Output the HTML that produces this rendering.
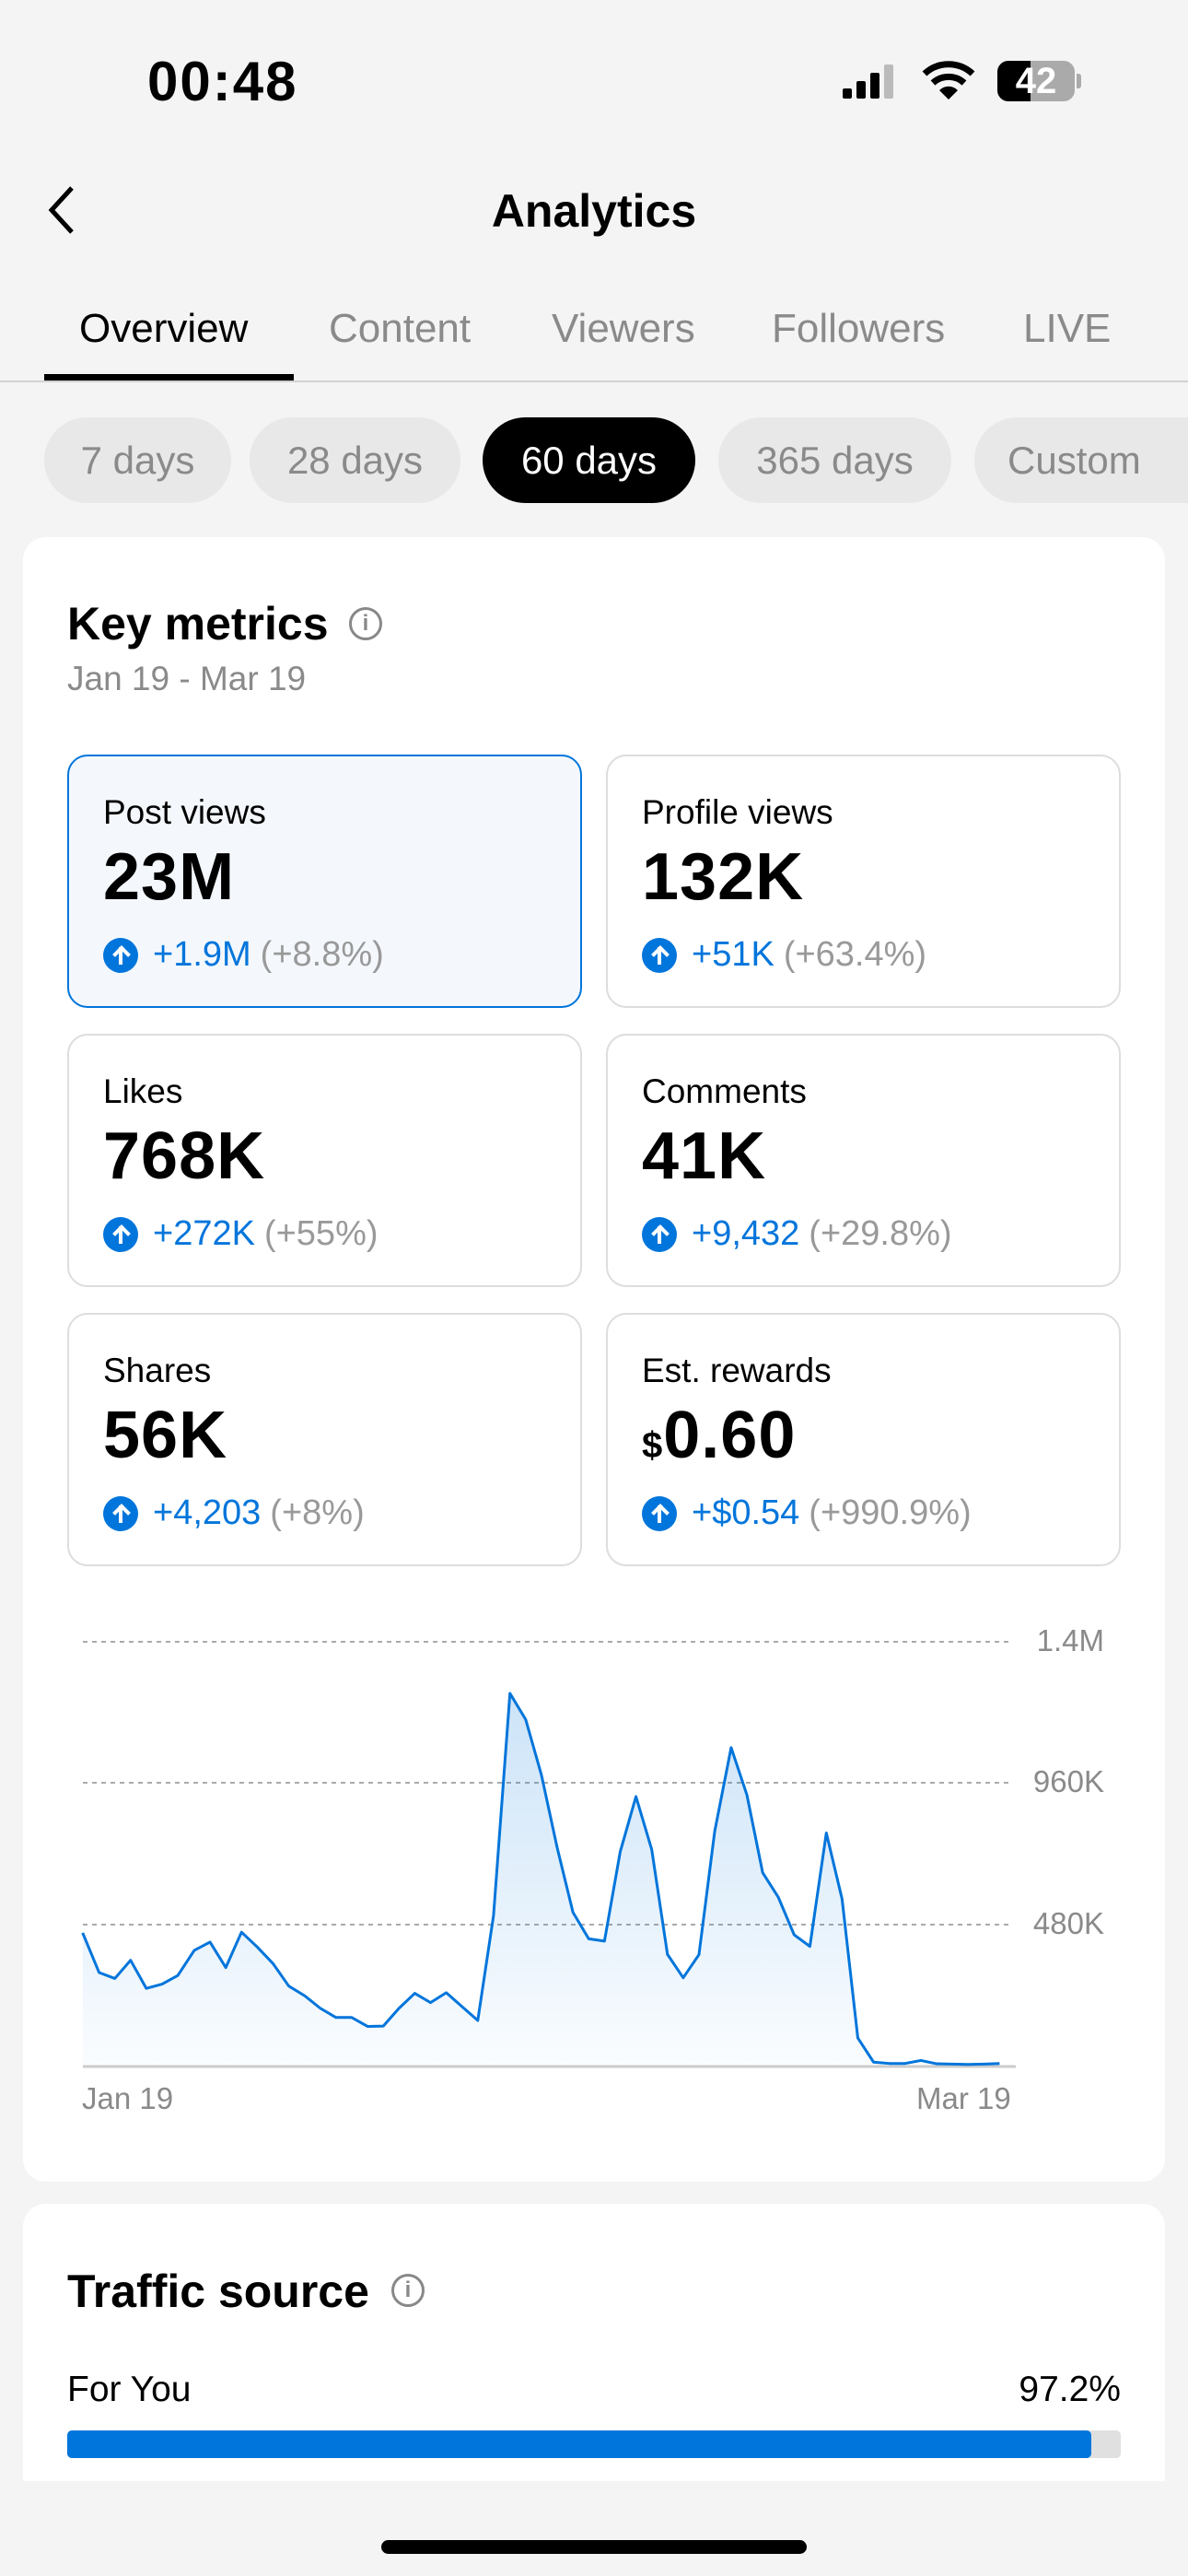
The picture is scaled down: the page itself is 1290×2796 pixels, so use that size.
<!DOCTYPE html>
<html><head><meta charset="utf-8">
<style>
*{margin:0;padding:0;box-sizing:border-box}
body{width:1290px;height:2796px;background:#f4f4f4;font-family:"Liberation Sans",sans-serif;position:relative;overflow:hidden;color:#000}
.a{position:absolute;white-space:nowrap}
.tab{position:absolute;top:332px;font-size:44px;color:#8a8a8a}
.pill{position:absolute;top:453px;height:93px;border-radius:47px;background:#e8e8e8;color:#8a8a8a;font-size:42px;line-height:93px;text-align:center}
.card{position:absolute;background:#fff;border-radius:25px}
.m{position:absolute;width:559px;height:275px;border:2px solid #ddd;border-radius:22px;background:#fff}
.m .l{position:absolute;left:37px;top:40px;font-size:37px}
.m .v{position:absolute;left:37px;top:90px;font-size:72px;font-weight:bold;letter-spacing:1px}
.m .d{position:absolute;left:37px;top:194px;font-size:38px;color:#0075db;display:flex;align-items:center}
.m .d i{display:inline-block;width:38px;height:38px;border-radius:50%;background:#0075db;margin-right:16px;position:relative}
.m .d i:before{content:"";position:absolute;left:17px;top:10px;width:4px;height:19px;background:#fff}
.m .d i:after{content:"";position:absolute;top:11px;width:10px;height:10px;border-left:4px solid #fff;border-top:4px solid #fff;transform:rotate(45deg);transform-origin:center;left:13px}
.m .d span{color:#999;margin-left:10px}
.yl{position:absolute;right:91px;font-size:33px;color:#8a8a8a}
</style></head><body>
<div class="a" style="left:160px;top:54px;font-size:60px;font-weight:bold;letter-spacing:2px">00:48</div>
<div class="a" style="left:915px;top:96px;width:10px;height:11px;background:#000;border-radius:2px"></div>
<div class="a" style="left:930px;top:88px;width:10px;height:19px;background:#000;border-radius:2px"></div>
<div class="a" style="left:945px;top:79px;width:10px;height:28px;background:#000;border-radius:2px"></div>
<div class="a" style="left:960px;top:70px;width:10px;height:37px;background:#bbb;border-radius:2px"></div>
<svg class="a" style="left:1000px;top:64px" width="60" height="46" viewBox="0 0 60 46"><path d="M4 16 A38 38 0 0 1 56 16" stroke="#000" stroke-width="7" fill="none"/><path d="M13 26 A25 25 0 0 1 47 26" stroke="#000" stroke-width="7" fill="none"/><path d="M30 44 L20 34 A14 14 0 0 1 40 34 Z" fill="#000"/></svg>
<div class="a" style="left:1083px;top:66px;width:84px;height:44px;border-radius:12px;background:#aaa;overflow:hidden"><div style="width:36px;height:44px;background:#000"></div></div>
<div class="a" style="left:1083px;width:84px;text-align:center;top:66px;font-size:40px;line-height:44px;font-weight:bold;color:#fff">42</div>
<div class="a" style="left:1169px;top:80px;width:5px;height:16px;background:#aaa;border-radius:0 3px 3px 0"></div>
<svg class="a" style="left:46px;top:200px" width="40" height="56"><path d="M32 4 L10 28 L32 52" stroke="#000" stroke-width="5" fill="none"/></svg>
<div class="a" style="left:0;width:1290px;text-align:center;top:200px;font-size:50px;font-weight:bold">Analytics</div>
<div class="tab" style="left:86px;color:#000">Overview</div>
<div class="tab" style="left:357px">Content</div>
<div class="tab" style="left:599px">Viewers</div>
<div class="tab" style="left:838px">Followers</div>
<div class="tab" style="left:1111px">LIVE</div>
<div class="a" style="left:0;top:413px;width:1290px;height:2px;background:#d2d2d2"></div>
<div class="a" style="left:48px;top:406px;width:271px;height:7px;background:#000"></div>
<div class="pill" style="left:48px;width:203px">7 days</div>
<div class="pill" style="left:271px;width:229px">28 days</div>
<div class="pill" style="left:524px;width:231px;background:#000;color:#fff">60 days</div>
<div class="pill" style="left:780px;width:253px">365 days</div>
<div class="pill" style="left:1058px;width:260px;border-radius:47px 0 0 47px;text-align:left;padding-left:36px">Custom</div>
<div class="card" style="left:25px;top:583px;width:1240px;height:1785px"></div>
<div class="a" style="left:73px;top:648px;font-size:50px;font-weight:bold">Key metrics</div>
<div class="a" style="left:379px;top:659px;width:36px;height:36px;border:3px solid #888;border-radius:50%;color:#888;font-size:24px;text-align:center;line-height:30px;font-weight:bold">i</div>
<div class="a" style="left:73px;top:716px;font-size:37px;color:#8a8a8a">Jan 19 - Mar 19</div>
<div class="m" style="left:73px;top:819px;border-color:#0075db;background:#f4f8fd"><div class="l">Post views</div><div class="v">23M</div><div class="d"><i></i>+1.9M<span>(+8.8%)</span></div></div>
<div class="m" style="left:658px;top:819px"><div class="l">Profile views</div><div class="v">132K</div><div class="d"><i></i>+51K<span>(+63.4%)</span></div></div>
<div class="m" style="left:73px;top:1122px"><div class="l">Likes</div><div class="v">768K</div><div class="d"><i></i>+272K<span>(+55%)</span></div></div>
<div class="m" style="left:658px;top:1122px"><div class="l">Comments</div><div class="v">41K</div><div class="d"><i></i>+9,432<span>(+29.8%)</span></div></div>
<div class="m" style="left:73px;top:1425px"><div class="l">Shares</div><div class="v">56K</div><div class="d"><i></i>+4,203<span>(+8%)</span></div></div>
<div class="m" style="left:658px;top:1425px"><div class="l">Est. rewards</div><div class="v"><span style="font-size:40px">$</span>0.60</div><div class="d"><i></i>+$0.54<span>(+990.9%)</span></div></div>
<svg class="a" style="left:0;top:0" width="1290" height="2400">
<g stroke="#aaa" stroke-width="2" stroke-dasharray="5,5">
<line x1="90" y1="1782" x2="1100" y2="1782"/><line x1="90" y1="1935" x2="1100" y2="1935"/><line x1="90" y1="2089" x2="1100" y2="2089"/></g>
<line x1="90" y1="2243" x2="1103" y2="2243" stroke="#ccc" stroke-width="3"/>
</svg>
<svg class="a" style="left:60px;top:1740px" width="1160" height="560" viewBox="0 0 1560 1560" preserveAspectRatio="none">
<defs><linearGradient id="g" x1="0" y1="0" x2="0" y2="1"><stop offset="0" stop-color="#0075db" stop-opacity="0.2"/><stop offset="1" stop-color="#0075db" stop-opacity="0.02"/></linearGradient></defs>
<polygon fill="url(#g)" points="40,1400 40,997 64,1117 87,1135 110,1080 133,1165 156,1152 179,1126 203,1050 226,1025 249,1102 272,995 295,1040 318,1090 341,1158 364,1187 387,1225 410,1253 433,1253 456,1280 479,1279 502,1225 525,1180 548,1208 571,1178 594,1220 617,1262 640,945 664,273 687,352 710,520 733,740 756,935 779,1015 802,1022 825,752 848,585 871,745 894,1062 917,1133 940,1063 963,690 987,437 1010,580 1033,815 1056,890 1079,1003 1102,1038 1126,695 1149,895 1172,1315 1195,1388 1218,1392 1241,1392 1264,1383 1287,1393 1310,1394 1333,1395 1356,1394 1379,1392 1379,1400"/>
<polyline fill="none" stroke="#0075db" stroke-width="3" vector-effect="non-scaling-stroke" stroke-linejoin="round" points="40,997 64,1117 87,1135 110,1080 133,1165 156,1152 179,1126 203,1050 226,1025 249,1102 272,995 295,1040 318,1090 341,1158 364,1187 387,1225 410,1253 433,1253 456,1280 479,1279 502,1225 525,1180 548,1208 571,1178 594,1220 617,1262 640,945 664,273 687,352 710,520 733,740 756,935 779,1015 802,1022 825,752 848,585 871,745 894,1062 917,1133 940,1063 963,690 987,437 1010,580 1033,815 1056,890 1079,1003 1102,1038 1126,695 1149,895 1172,1315 1195,1388 1218,1392 1241,1392 1264,1383 1287,1393 1310,1394 1333,1395 1356,1394 1379,1392"/>
</svg>
<div class="yl" style="top:1762px">1.4M</div>
<div class="yl" style="top:1915px">960K</div>
<div class="yl" style="top:2069px">480K</div>
<div class="a" style="left:89px;top:2259px;font-size:33px;color:#8a8a8a">Jan 19</div>
<div class="a" style="left:995px;top:2259px;font-size:33px;color:#8a8a8a">Mar 19</div>
<div class="card" style="left:25px;top:2392px;width:1240px;height:301px;border-radius:25px 25px 0 0"></div>
<div class="a" style="left:73px;top:2458px;font-size:50px;font-weight:bold">Traffic source</div>
<div class="a" style="left:425px;top:2468px;width:36px;height:36px;border:3px solid #888;border-radius:50%;color:#888;font-size:24px;text-align:center;line-height:30px;font-weight:bold">i</div>
<div class="a" style="left:73px;top:2572px;font-size:39px">For You</div>
<div class="a" style="right:73px;top:2572px;font-size:39px">97.2%</div>
<div class="a" style="left:73px;top:2638px;width:1144px;height:30px;background:#e0e0e0;border-radius:5px"></div>
<div class="a" style="left:73px;top:2638px;width:1112px;height:30px;background:#0075db;border-radius:5px"></div>
<div class="a" style="left:414px;top:2757px;width:462px;height:15px;background:#000;border-radius:8px"></div>
</body></html>
